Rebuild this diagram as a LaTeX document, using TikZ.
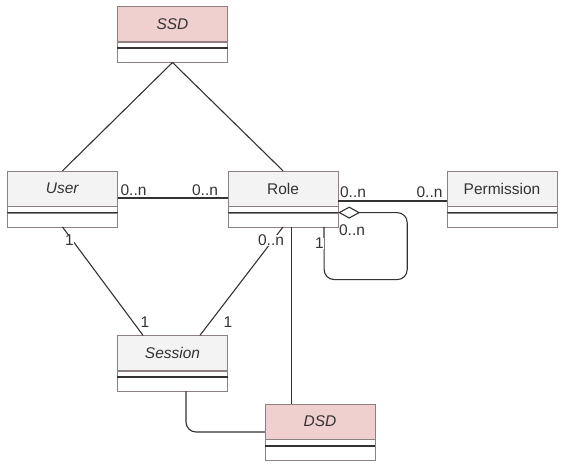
\documentclass[tikz,border=0pt]{standalone}
\usepackage{fontspec}
\setmainfont{Liberation Sans}
\usetikzlibrary{positioning,arrows.meta}

\definecolor{boxline}{RGB}{140,128,128}
\definecolor{namegray}{RGB}{243,243,243}
\definecolor{namepink}{RGB}{240,207,207}
\definecolor{inkgray}{RGB}{51,51,51}

\tikzset{
  classname/.style={draw=boxline, fill=namegray, minimum width=110pt,
    minimum height=35pt, inner sep=0pt, text=inkgray,
    font=\fontsize{15.5}{18}\selectfont},
  constraint/.style={classname, fill=namepink},
  classattr/.style={draw=boxline, fill=white, minimum width=110pt,
    minimum height=6pt, inner sep=0pt},
  classop/.style={draw=boxline, fill=white, minimum width=110pt,
    minimum height=14pt, inner sep=0pt},
  sepline/.style={draw=inkgray, line width=1.8pt},
  assoc/.style={draw=inkgray, line width=1.1pt},
  mult/.style={fill=white, inner sep=0.5pt, text=inkgray,
    font=\fontsize{15.5}{18}\selectfont},
}

\begin{document}
\begin{tikzpicture}[x=1pt, y=-1pt]
  \useasboundingbox (0,0) rectangle (566,468);

  % class boxes
  \node[constraint] (ssd) at (172.5,24) {\textit{SSD}};
  \node[classname] (user) at (62.5,188.5) {\textit{User}};
  \node[classname] (role) at (283,188.5) {Role};
  \node[classname] (permission) at (502,188.5) {Permission};
  \node[classname] (session) at (172.5,353) {\textit{Session}};
  \node[constraint] (dsd) at (320,421.5) {\textit{DSD}};
  \foreach \n in {ssd,user,role,permission,session,dsd} {
    \node[classattr, below=0pt of \n] (\n-a) {};
    \node[classop, below=0pt of \n-a] (\n-o) {};
    \draw[sepline] (\n-a.south west) -- (\n-a.south east);
  }

  % associations
  \draw[assoc] (ssd-o.south) -- (user.north);
  \draw[assoc] (ssd-o.south) -- (role.north);
  \draw[assoc] ([yshift=-9.5pt]user.east) -- ([yshift=-9.5pt]role.west);
  \draw[assoc] ([yshift=-12.5pt]role.east) -- ([yshift=-12.5pt]permission.west);
  \draw[assoc] (user-o.south) -- ([xshift=-29.5pt]session.north);
  \draw[assoc] (role-o.south) -- ([xshift=27.5pt]session.north);
  \draw[assoc] ([xshift=8.5pt]role-o.south) -- ([xshift=8.5pt]role-o.south |- dsd.north);
  \draw[assoc, rounded corners=10pt] ([xshift=13.5pt]session-o.south)
    |- ([yshift=-10.5pt]dsd.west);
  \draw[assoc, rounded corners=10pt, {Diamond[open, length=22pt, width=12pt]}-]
    (role-a.south east) -- ++(69,0) -- ++(0,67) -- ++(-83,0)
    -- ([xshift=41pt]role-o.south);

  % multiplicities
  \node[mult] (m-ur) at (133.5,190) {0..n};
  \node[mult] (m-ru) at (205,190) {0..n};
  \node[mult] (m-rp) at (353,192) {0..n};
  \node[mult] (m-pr) at (429.5,192) {0..n};
  \node[mult] (m-loopa) at (352,230) {0..n};
  \node[mult] (m-loopb) at (319.5,243.5) {1};
  \node[mult] (m-rs) at (271,240.5) {0..n};
  \node[mult] (m-sr) at (228,322) {1};
  \node[mult] (m-us) at (69.5,240.5) {1};
  \node[mult] (m-su) at (145,322) {1};
\end{tikzpicture}
\end{document}
